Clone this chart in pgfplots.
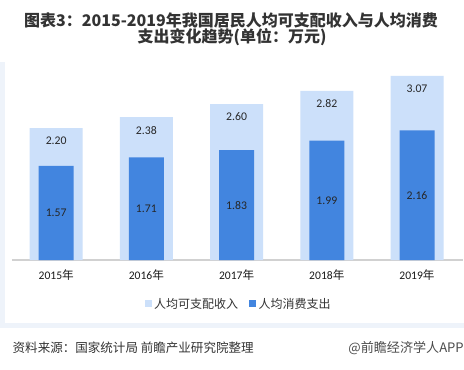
\documentclass[border=0pt]{standalone}
\usepackage{fontspec}
\usepackage{pgfplots}
\usepackage{pgfplotstable}
\pgfplotsset{compat=1.18}
\setmainfont{Carlito}
\newfontfamily\cjk{Noto Sans CJK SC}
\definecolor{lightbar}{HTML}{CCE0FA}
\definecolor{darkbar}{HTML}{4285DF}
\definecolor{panel}{HTML}{EEF3FA}
\definecolor{txt}{HTML}{333333}
\pgfplotstableread{
x inc con
0 2.20 1.57
1 2.38 1.71
2 2.60 1.83
3 2.82 1.99
4 3.07 2.16
}\data
\newcommand{\yr}[1]{#1{\cjk 年}}
\begin{document}
\begin{tikzpicture}
\fill[white] (0,0) rectangle (348pt,276.75pt);
\path[use as bounding box] (0,0) rectangle (348pt,276.75pt);
\fill[panel] (0,30.75pt) rectangle (348pt,230.25pt);
\fill[white] (3.75pt,34.5pt) rectangle (348pt,230.25pt);
\node[text=txt, font=\cjk\bfseries\fontsize{12}{14}\selectfont] at (173.25pt,261.75pt) {图表3：2015-2019年我国居民人均可支配收入与人均消费};
\node[text=txt, font=\cjk\bfseries\fontsize{12}{14}\selectfont] at (174pt,248.6pt) {支出变化趋势(单位：万元)};
\begin{axis}[
  at={(9pt,81.75pt)}, anchor=south west,
  scale only axis, width=338.25pt, height=148.5pt,
  xmin=-0.49, xmax=4.51, ymin=0, ymax=3.3,
  axis x line=bottom, axis y line=none,
  x axis line style={-, draw=black!18, line width=0.8pt},
  major tick length=0pt,
  xtick=data,
  xticklabels={\yr{2015},\yr{2016},\yr{2017},\yr{2018},\yr{2019}},
  xticklabel style={anchor=center, yshift=-11.25pt, font=\fontsize{8.7}{10}\selectfont, text=black!90},
  legend style={at={(0.503,-0.222)}, anchor=center, draw=none, fill=none,
    legend columns=-1, font=\cjk\fontsize{9}{10}\selectfont, text=txt,
    /tikz/every even column/.append style={column sep=6pt},
    inner sep=0pt},
  legend image code/.code={\fill[#1] (0pt,-2.6pt) rectangle (5.25pt,2.6pt);},
  vlabel/.style={
    nodes near coords={\pgfmathprintnumber[fixed,fixed zerofill,precision=2,assume math mode=true]{\pgfplotspointmeta}},
    every node near coord/.append style={anchor=center, font=\fontsize{8.8}{10}\selectfont, text=black!85}},
]
\addplot[ybar, bar width=39.75pt, bar shift=0pt, fill=lightbar, draw=none,
  vlabel, every node near coord/.append style={yshift=-9.75pt}]
  table[x=x,y=inc]{\data};
\addlegendentry{人均可支配收入}
\addplot[ybar, bar width=26.25pt, bar shift=0pt, fill=darkbar, draw=none]
  table[x=x,y=con]{\data};
\addlegendentry{人均消费支出}
\addplot[forget plot, only marks, mark=*, mark size=0pt, mark options={draw=none,fill=none},
  point meta=explicit, vlabel]
  table[x=x, y expr=\thisrow{con}/2, meta=con]{\data};
\end{axis}
\node[anchor=west, text=txt, font=\cjk\fontsize{9.4}{11}\selectfont] at (6pt,15.75pt) {资料来源：国家统计局 前瞻产业研究院整理};
\node[anchor=east, text=black!70, font=\cjk\fontsize{9.8}{11}\selectfont, inner sep=0pt] at (348pt,15.75pt) {@前瞻经济学人APP};
\end{tikzpicture}
\end{document}
